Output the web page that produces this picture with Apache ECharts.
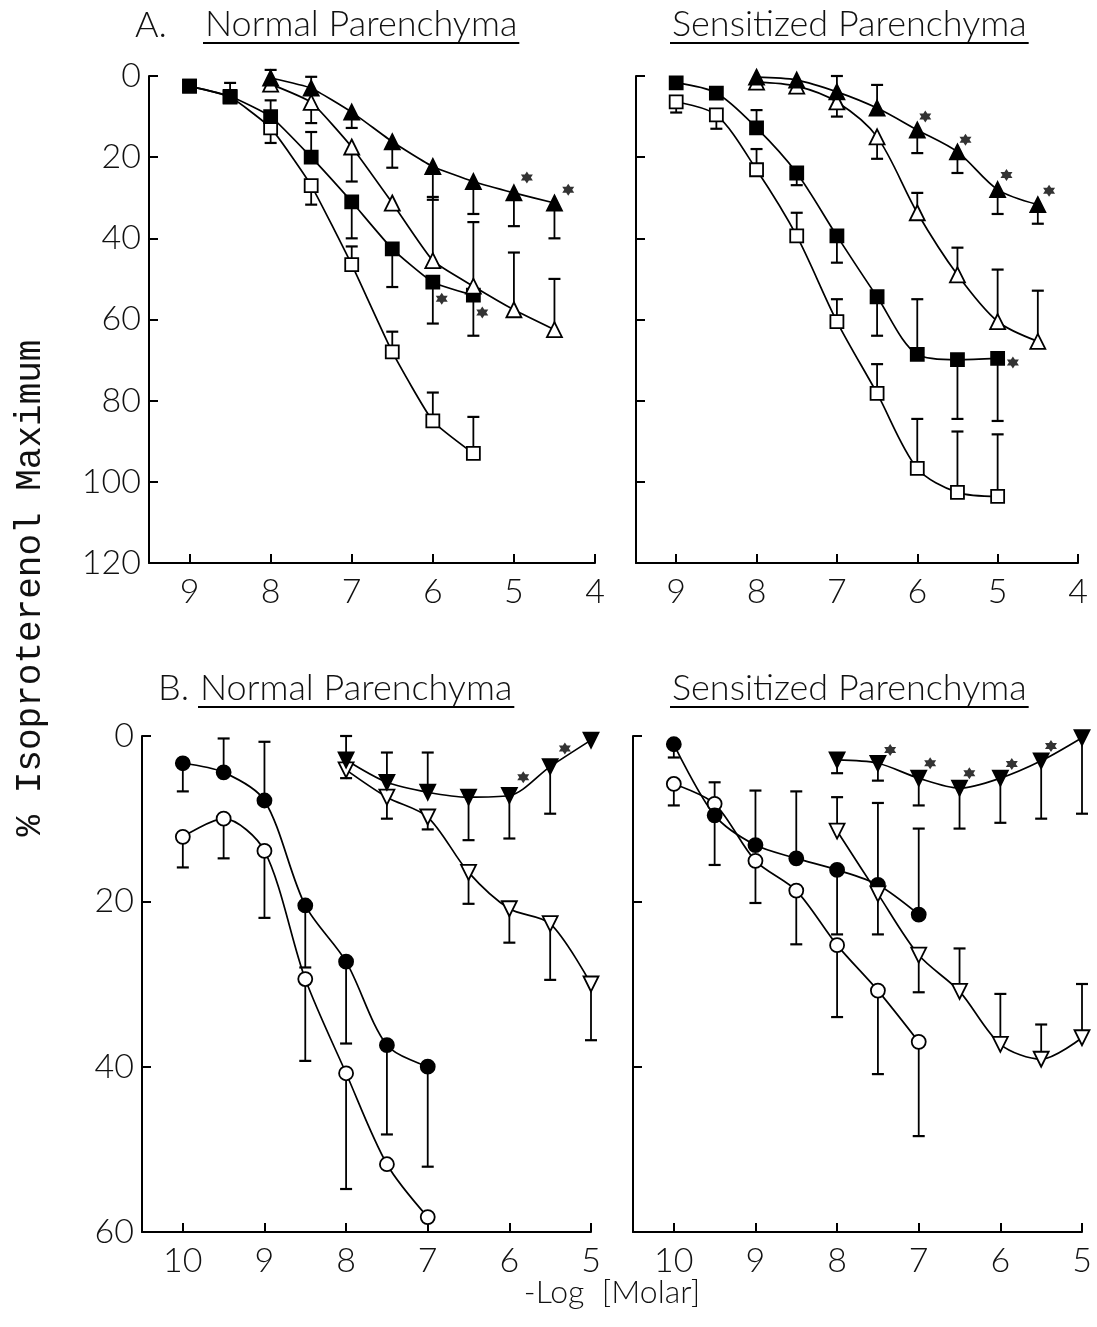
<!DOCTYPE html>
<html>
<head>
<meta charset="utf-8">
<script src="https://cdn.jsdelivr.net/npm/echarts@6/dist/echarts.min.js"></script>
<style>
  html, body { margin: 0; padding: 0; background: #fff; }
  #chart { width: 1097px; height: 1327px; }
</style>
</head>
<body>
<div id="chart"></div>
<script>
// Concentration grids (-log molar) and axis ticks
const dosesA = [9, 8.5, 8, 7.5, 7, 6.5, 6, 5.5, 5, 4.5];
const dosesB = [10, 9.5, 9, 8.5, 8, 7.5, 7, 6.5, 6, 5.5, 5];
const xTicksA = [9, 8, 7, 6, 5, 4];
const xTicksB = [10, 9, 8, 7, 6, 5];
const yTicksA = [0, 20, 40, 60, 80, 100, 120];
const yTicksB = [0, 20, 40, 60];

// Panel A, normal parenchyma (% isoproterenol maximum); errors are signed bar lengths
const aNormOpenSq      = [2.5, 5.2, 12.8, 27, 46.5, 68, 85, 93, null, null];
const aNormOpenSqErr   = [0, -3.5, 3.7, 4.7, -4.5, -5, -7, -9, 0, 0];
const aNormFillSq      = [2.5, 5, 10, 20, 31, 42.6, 50.8, 54, null, null];
const aNormFillSqErr   = [0, 0, -4, -6.2, 9, 9.4, 10.2, 10, 0, 0];
const aNormOpenTri     = [null, null, 2, 6.5, 17.5, 31.3, 45.5, 51.8, 57.6, 62.5];
const aNormOpenTriErr  = [0, 0, 0, 5.1, 8.5, 0, -15.7, -15.8, -14.1, -12.5];
const aNormFillTri     = [null, null, 0.5, 3, 8.9, 16.2, 22.3, 26, 28.8, 31.3];
const aNormFillTriErr  = [0, 0, -2, -2.8, 3.9, 6.4, 8.2, 8, 8.2, 8.7];
const aNormStars       = [[4.84, 25], [4.33, 28], [5.89, 54.9], [5.39, 58.3]];

// Panel A, sensitized parenchyma
const aSensOpenSq      = [6.4, 9.6, 23.1, 39.4, 60.5, 78.2, 96.7, 102.6, 103.6, null];
const aSensOpenSqErr   = [2.6, 3.4, -5.1, -5.7, -5.5, -7.2, -12.2, -15, -15.3, 0];
const aSensFillSq      = [1.7, 4.2, 12.8, 23.9, 39.4, 54.4, 68.6, 69.9, 69.6, null];
const aSensFillSqErr   = [0, 0, -4.4, 3, 6.6, 9.6, -13.6, 14.6, 15.4, 0];
const aSensOpenTri     = [null, null, 1.5, 2.5, 6.4, 15, 33.7, 49, 60.5, 65.4];
const aSensOpenTriErr  = [0, 0, 0, 0, 3.6, 5.4, -4.9, -6.7, -12.8, -12.5];
const aSensFillTri     = [null, null, 0.3, 1, 3.9, 7.9, 13.3, 18.7, 28, 31.7];
const aSensFillTriErr  = [0, 0, 0, 0, -3.9, -5.7, 5.7, 5.2, 6, 4.7];
const aSensStars       = [[5.9, 10], [5.4, 15.7], [4.89, 24.4], [4.36, 28.3], [4.81, 70.6]];

// Panel B, normal parenchyma
const bNormFillCirc    = [3.3, 4.4, 7.8, 20.5, 27.3, 37.4, 40, null, null, null, null];
const bNormFillCircErr = [3.4, -4.1, -7.1, 7.5, 9.9, 10.8, 12.1, 0, 0, 0, 0];
const bNormOpenCirc    = [12.2, 10, 13.9, 29.4, 40.8, 51.8, 58.2, null, null, null, null];
const bNormOpenCircErr = [3.7, 4.8, 8.1, 9.9, 14, 0, 0, 0, 0, 0, 0];
const bNormFillDown    = [null, null, null, null, 2.9, 5.6, 6.8, 7.4, 7.2, 3.7, 0.5];
const bNormFillDownErr = [0, 0, 0, 0, -2.9, -3.6, -4.8, 5.2, 5.2, 5.7, 0];
const bNormOpenDown    = [null, null, null, null, 4.1, 7.4, 9.8, 16.5, 20.9, 22.7, 30];
const bNormOpenDownErr = [0, 0, 0, 0, 1, 2.6, 1.5, 3.8, 4.1, 6.8, 6.8];
const bNormStars       = [[5.83, 5], [5.32, 1.5], [4.8, -0.4]];

// Panel B, sensitized parenchyma
const bSensFillCirc    = [1, 9.6, 13.2, 14.8, 16.2, 18, 21.6, null, null, null, null];
const bSensFillCircErr = [1.6, 6, -6.6, -8.1, 7.8, -9.9, -10.4, 0, 0, 0, 0];
const bSensOpenCirc    = [5.8, 8.2, 15.1, 18.7, 25.3, 30.8, 37, null, null, null, null];
const bSensOpenCircErr = [2.6, -2.6, 5.1, 6.5, 8.7, 10.1, 11.4, 0, 0, 0, 0];
const bSensFillDown    = [null, null, null, null, 2.9, 3.3, 5.1, 6.3, 5.1, 3, 0.2];
const bSensFillDownErr = [0, 0, 0, 0, 1.6, 2.1, 3.3, 4.9, 5.4, 7, 9.2];
const bSensOpenDown    = [null, null, null, null, 11.5, 19.1, 26.5, 30.9, 37.3, 39.1, 36.5];
const bSensOpenDownErr = [0, 0, 0, 0, -4.1, 4.9, 4.5, -5.2, -6.1, -4.2, -6.5];
const bSensStars       = [[7.35, 1.7], [6.86, 3.3], [6.38, 4.5], [5.86, 3.4], [5.38, 1.2], [4.9, -1.3]];

// Marker styles
const MARKS = {
  openSq:   { symbol: 'rect', size: 13, fill: '#fff', rotate: 0 },
  fillSq:   { symbol: 'rect', size: 13, fill: '#000', rotate: 0 },
  openTri:  { symbol: 'triangle', size: 15, fill: '#fff', rotate: 0 },
  fillTri:  { symbol: 'triangle', size: 15, fill: '#000', rotate: 0 },
  openCirc: { symbol: 'circle', size: 14, fill: '#fff', rotate: 0 },
  fillCirc: { symbol: 'circle', size: 14, fill: '#000', rotate: 0 },
  openDown: { symbol: 'triangle', size: 15, fill: '#fff', rotate: 180 },
  fillDown: { symbol: 'triangle', size: 15, fill: '#000', rotate: 180 }
};
const STAR = 'path://M0,-10L2.9,-5L8.7,-5L5.8,0L8.7,5L2.9,5L0,10L-2.9,5L-8.7,5L-5.8,0L-8.7,-5L-2.9,-5Z';

const panels = [
  { doses: dosesA, smooth: 0.15, stars: aNormStars, curves: [
    [aNormOpenSq, aNormOpenSqErr, 'openSq'], [aNormFillSq, aNormFillSqErr, 'fillSq'],
    [aNormOpenTri, aNormOpenTriErr, 'openTri'], [aNormFillTri, aNormFillTriErr, 'fillTri'] ] },
  { doses: dosesA, smooth: 0.3, stars: aSensStars, curves: [
    [aSensOpenSq, aSensOpenSqErr, 'openSq'], [aSensFillSq, aSensFillSqErr, 'fillSq'],
    [aSensOpenTri, aSensOpenTriErr, 'openTri'], [aSensFillTri, aSensFillTriErr, 'fillTri'] ] },
  { doses: dosesB, smooth: 0.3, stars: bNormStars, curves: [
    [bNormOpenCirc, bNormOpenCircErr, 'openCirc'], [bNormFillCirc, bNormFillCircErr, 'fillCirc'],
    [bNormOpenDown, bNormOpenDownErr, 'openDown'], [bNormFillDown, bNormFillDownErr, 'fillDown'] ] },
  { doses: dosesB, smooth: 0.3, stars: bSensStars, curves: [
    [bSensOpenCirc, bSensOpenCircErr, 'openCirc'], [bSensFillCirc, bSensFillCircErr, 'fillCirc'],
    [bSensOpenDown, bSensOpenDownErr, 'openDown'], [bSensFillDown, bSensFillDownErr, 'fillDown'] ] }
];

const LABEL_FONT = 'Lato';
const grids = [
  { left: 149, top: 76, width: 446, height: 487 },
  { left: 636, top: 76, width: 442, height: 487 },
  { left: 142, top: 736, width: 449, height: 496 },
  { left: 633, top: 736, width: 449, height: 496 }
];

function axisLine() { return { show: true, onZero: false, lineStyle: { color: '#000', width: 2 } }; }

const xAxes = grids.map((g, i) => {
  const isA = i < 2;
  const ticks = isA ? xTicksA : xTicksB;
  return {
    gridIndex: i, type: 'value', inverse: true,
    min: isA ? 4 : 5, max: isA ? 9.5 : 10.5,
    axisLine: axisLine(),
    axisTick: { show: true, inside: true, length: 9, customValues: ticks, lineStyle: { color: '#000', width: 2 } },
    axisLabel: { customValues: ticks, fontFamily: LABEL_FONT, fontWeight: 300, fontSize: 34, color: '#111', margin: 12 },
    splitLine: { show: false }
  };
});
const yAxes = grids.map((g, i) => {
  const isA = i < 2;
  const ticks = isA ? yTicksA : yTicksB;
  return {
    gridIndex: i, type: 'value', inverse: true,
    min: 0, max: isA ? 120 : 60,
    axisLine: axisLine(),
    axisTick: { show: true, inside: true, length: 9, customValues: ticks, lineStyle: { color: '#000', width: 2 } },
    axisLabel: { show: i % 2 === 0, customValues: ticks, fontFamily: LABEL_FONT, fontWeight: 300, fontSize: 34, color: '#111', margin: 8 },
    splitLine: { show: false }
  };
});

function points(doses, vals) {
  return doses.map((d, k) => vals[k] == null ? null : [d, vals[k]]).filter(Boolean);
}
function bars(doses, vals, errs) {
  return doses.map((d, k) => (vals[k] == null || !errs[k]) ? null : [d, vals[k], vals[k] + errs[k]]).filter(Boolean);
}

function renderBar(params, api) {
  const p0 = api.coord([api.value(0), api.value(1)]);
  const p1 = api.coord([api.value(0), api.value(2)]);
  return {
    type: 'group',
    children: [
      { type: 'line', shape: { x1: p0[0], y1: p0[1], x2: p1[0], y2: p1[1] }, style: { stroke: '#000', lineWidth: 1.8 } },
      { type: 'line', shape: { x1: p1[0] - 6, y1: p1[1], x2: p1[0] + 6, y2: p1[1] }, style: { stroke: '#000', lineWidth: 2.2 } }
    ]
  };
}

const series = [];
panels.forEach((p, i) => {
  p.curves.forEach(([vals, errs, mk]) => {
    const m = MARKS[mk];
    series.push({
      type: 'custom', xAxisIndex: i, yAxisIndex: i, z: 2, clip: false,
      renderItem: renderBar, encode: { x: 0, y: [1, 2] },
      data: bars(p.doses, vals, errs), silent: true
    });
    series.push({
      type: 'line', xAxisIndex: i, yAxisIndex: i, z: 3,
      data: points(p.doses, vals), smooth: p.smooth,
      symbol: m.symbol, symbolSize: m.size, symbolRotate: m.rotate, showAllSymbol: true,
      lineStyle: { color: '#000', width: 1.7 },
      itemStyle: { color: m.fill, borderColor: '#000', borderWidth: 1.8 },
      animation: false, silent: true
    });
  });
  series.push({
    type: 'scatter', xAxisIndex: i, yAxisIndex: i, z: 4,
    data: p.stars, symbol: STAR, symbolSize: 12,
    itemStyle: { color: '#000' }, silent: true
  });
});

// Panel headings with underlines
const TITLE_FONT = '300 36px Lato';
const measure = document.createElement('canvas').getContext('2d');
function heading(text, x, y) {
  measure.font = TITLE_FONT;
  const w = measure.measureText(text).width;
  return [
    { type: 'text', x: x, y: y, style: { text: text, font: TITLE_FONT, fill: '#111', textVerticalAlign: 'middle' } },
    { type: 'line', shape: { x1: x - 2, y1: y + 19, x2: x + w + 2, y2: y + 19 }, style: { stroke: '#000', lineWidth: 2 } }
  ];
}

const graphics = [].concat(
  [{ type: 'text', x: 135, y: 25, style: { text: 'A.', font: TITLE_FONT, fill: '#111', textVerticalAlign: 'middle' } }],
  heading('Normal Parenchyma', 205, 24),
  heading('Sensitized Parenchyma', 672, 24),
  [{ type: 'text', x: 158, y: 688, style: { text: 'B.', font: TITLE_FONT, fill: '#111', textVerticalAlign: 'middle' } }],
  heading('Normal Parenchyma', 200, 688),
  heading('Sensitized Parenchyma', 672, 688),
  [
    { type: 'text', x: 30, y: 588, rotation: Math.PI / 2,
      style: { text: '% Isoproterenol Maximum', font: '36px "Liberation Mono"', fill: '#111', textAlign: 'center', textVerticalAlign: 'middle' } },
    { type: 'text', x: 612, y: 1293,
      style: { text: '-Log  [Molar]', font: '300 32px Lato', fill: '#111', textAlign: 'center', textVerticalAlign: 'middle' } }
  ]
);

const chart = echarts.init(document.getElementById('chart'), null, { renderer: 'canvas' });
chart.setOption({
  animation: false,
  backgroundColor: '#fff',
  grid: grids.map(g => Object.assign({ outerBoundsMode: 'none', containLabel: false }, g)),
  xAxis: xAxes,
  yAxis: yAxes,
  series: series,
  graphic: graphics
});
</script>
</body>
</html>
